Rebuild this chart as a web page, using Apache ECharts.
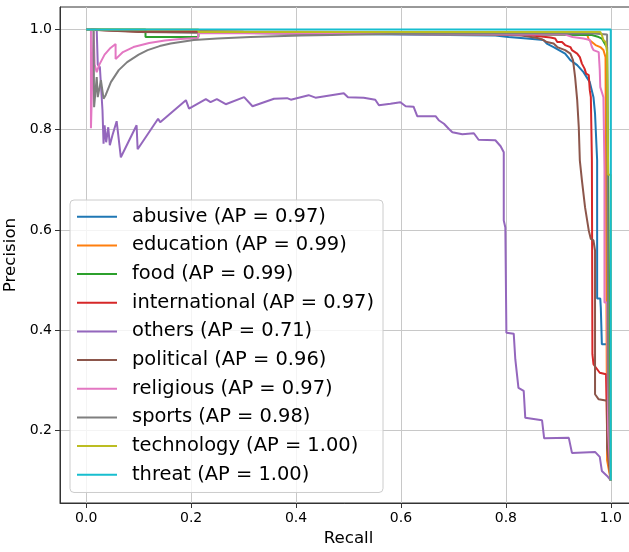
<!DOCTYPE html>
<html>
<head>
<meta charset="utf-8">
<script src="https://cdn.jsdelivr.net/npm/echarts@6/dist/echarts.min.js"></script>
<style>
  html, body { margin: 0; padding: 0; background: #ffffff; }
  #chart { width: 629px; height: 552px; }
</style>
</head>
<body>
<div id="chart"></div>
<script>
// Precision-recall curves, one per class: [recall, precision] pairs in order of recall.
const categories = ['abusive', 'education', 'food', 'international', 'others',
                    'political', 'religious', 'sports', 'technology', 'threat'];
const apScores = [0.97, 0.99, 0.99, 0.97, 0.71, 0.96, 0.97, 0.98, 1.00, 1.00];
const tickValues = [0.0, 0.2, 0.4, 0.6, 0.8, 1.0];
const precisionTicks = [0.2, 0.4, 0.6, 0.8, 1.0];

const abusive = [[0, 1], [0.15, 0.995], [0.4, 0.992], [0.6, 0.99], [0.78, 0.988], [0.805, 0.985],
  [0.84, 0.982], [0.872, 0.979], [0.878, 0.972], [0.891, 0.965], [0.913, 0.952], [0.923, 0.939],
  [0.936, 0.929], [0.948, 0.915], [0.96, 0.895], [0.967, 0.865], [0.970, 0.832], [0.974, 0.739],
  [0.974, 0.463], [0.980, 0.463], [0.981, 0.445], [0.983, 0.443], [0.983, 0.372], [0.993, 0.372],
  [0.995, 0.2], [1.0, 0.1]];

const education = [[0, 1], [0.3, 0.996], [0.7, 0.994], [0.9, 0.992], [0.955, 0.99], [0.958, 0.98],
  [0.971, 0.969], [0.98, 0.965], [0.986, 0.959], [0.99, 0.945], [0.993, 0.942], [0.993, 0.14],
  [1.0, 0.1]];

const food = [[0, 1], [0.113, 1.0], [0.113, 0.985], [0.214, 0.985], [0.214, 0.993], [0.376, 0.993],
  [0.376, 0.99], [0.7, 0.99], [0.964, 0.989], [0.977, 0.985], [0.983, 0.982], [0.986, 0.979],
  [0.99, 0.969], [0.993, 0.965], [0.995, 0.7], [1.0, 0.1]];

const international = [[0, 1], [0.1, 0.996], [0.55, 0.994], [0.75, 0.992], [0.85, 0.988],
  [0.885, 0.984], [0.894, 0.982], [0.898, 0.975], [0.907, 0.975], [0.913, 0.969], [0.923, 0.965],
  [0.926, 0.959], [0.936, 0.952], [0.941, 0.945], [0.945, 0.932], [0.950, 0.922], [0.953, 0.912],
  [0.958, 0.909], [0.960, 0.879], [0.962, 0.865], [0.964, 0.739], [0.965, 0.352], [0.967, 0.332],
  [0.970, 0.329], [0.979, 0.315], [0.991, 0.312], [0.993, 0.2], [1.0, 0.1]];

const others = [[0, 1], [0.02, 1.0], [0.022, 0.93], [0.026, 0.925], [0.031, 0.839], [0.033, 0.772],
  [0.035, 0.809], [0.038, 0.775], [0.042, 0.805], [0.045, 0.769], [0.050, 0.789], [0.058, 0.817],
  [0.066, 0.745], [0.096, 0.809], [0.098, 0.761], [0.137, 0.822], [0.141, 0.815], [0.190, 0.859],
  [0.196, 0.842], [0.228, 0.861], [0.237, 0.855], [0.249, 0.861], [0.266, 0.851], [0.301, 0.865],
  [0.317, 0.847], [0.358, 0.862], [0.383, 0.863], [0.390, 0.860], [0.424, 0.869], [0.437, 0.864],
  [0.491, 0.873], [0.499, 0.865], [0.529, 0.864], [0.551, 0.860], [0.558, 0.849], [0.580, 0.852],
  [0.599, 0.855], [0.609, 0.847], [0.624, 0.846], [0.631, 0.827], [0.666, 0.827], [0.672, 0.819],
  [0.682, 0.812], [0.691, 0.802], [0.698, 0.795], [0.717, 0.791], [0.739, 0.793], [0.748, 0.780],
  [0.780, 0.779], [0.790, 0.767], [0.796, 0.755], [0.796, 0.619], [0.799, 0.605], [0.801, 0.395],
  [0.815, 0.393], [0.818, 0.342], [0.824, 0.285], [0.834, 0.279], [0.837, 0.225], [0.869, 0.220],
  [0.873, 0.184], [0.920, 0.185], [0.926, 0.155], [0.970, 0.157], [0.979, 0.147], [0.983, 0.119],
  [0.993, 0.109], [1.0, 0.10]];

const political = [[0, 1], [0.1, 0.995], [0.4, 0.992], [0.7, 0.991], [0.786, 0.99], [0.83, 0.988],
  [0.86, 0.983], [0.87, 0.98], [0.878, 0.975], [0.891, 0.972], [0.898, 0.965], [0.913, 0.959],
  [0.923, 0.952], [0.928, 0.939], [0.932, 0.905], [0.936, 0.859], [0.939, 0.805], [0.941, 0.739],
  [0.945, 0.699], [0.951, 0.645], [0.958, 0.599], [0.962, 0.582], [0.967, 0.579], [0.970, 0.559],
  [0.970, 0.272], [0.977, 0.262], [0.993, 0.259], [0.993, 0.165], [1.0, 0.1]];

const religious = [[0, 1], [0.009, 1.0], [0.009, 0.803], [0.014, 1.0], [0.016, 0.93], [0.02, 0.915],
  [0.025, 0.93], [0.035, 0.95], [0.045, 0.962], [0.056, 0.971], [0.056, 0.941], [0.07, 0.955],
  [0.09, 0.965], [0.12, 0.973], [0.15, 0.978], [0.18, 0.981], [0.213, 0.983], [0.214, 0.993],
  [0.45, 0.992], [0.66, 0.99], [0.913, 0.99], [0.927, 0.985], [0.948, 0.982], [0.96, 0.979],
  [0.964, 0.965], [0.967, 0.959], [0.977, 0.955], [0.979, 0.919], [0.980, 0.885], [0.983, 0.875],
  [0.986, 0.865], [0.988, 0.72], [0.988, 0.455], [0.993, 0.455], [0.995, 0.2], [1.0, 0.1]];

const sports = [[0, 1], [0.014, 1.0], [0.015, 0.845], [0.020, 0.905], [0.022, 0.865], [0.028, 0.899],
  [0.033, 0.862], [0.037, 0.869], [0.047, 0.895], [0.062, 0.919], [0.078, 0.935], [0.1, 0.95],
  [0.117, 0.959], [0.14, 0.967], [0.161, 0.972], [0.205, 0.979], [0.25, 0.982], [0.313, 0.985],
  [0.41, 0.988], [0.58, 0.991], [0.8, 0.992], [0.967, 0.992], [0.993, 0.99], [0.993, 0.955],
  [0.995, 0.3], [1.0, 0.1]];

const technology = [[0, 1], [0.214, 1.0], [0.214, 0.995], [0.973, 0.995], [0.98, 0.995],
  [0.983, 0.989], [0.986, 0.979], [0.99, 0.975], [0.993, 0.955], [0.995, 0.71], [1.0, 0.71],
  [1.0, 0.1]];

const threat = [[0, 1], [1.0, 1.0], [1.0, 0.1]];

const curves = [abusive, education, food, international, others,
                political, religious, sports, technology, threat];
const palette = ['#1f77b4', '#ff7f0e', '#2ca02c', '#d62728', '#9467bd',
                 '#8c564b', '#e377c2', '#7f7f7f', '#bcbd22', '#17becf'];

const FONT = 'DejaVu Sans';
const names = categories.map((c, i) => `${c} (AP = ${apScores[i].toFixed(2)})`);

const chart = echarts.init(document.getElementById('chart'), null, { renderer: 'canvas' });

chart.setOption({
  animation: false,
  backgroundColor: '#ffffff',
  color: palette,
  grid: {
    left: 60, top: 7, width: 577, height: 496,
    containLabel: false, outerBoundsMode: 'none',
    show: true, borderColor: '#333333', borderWidth: 1, backgroundColor: 'transparent'
  },
  legend: {
    orient: 'vertical',
    left: 70, top: 200,
    padding: [7, 9, 8, 7],
    itemGap: 9.23,
    itemWidth: 40, itemHeight: 2,
    icon: 'rect',
    backgroundColor: 'rgba(255,255,255,0.8)',
    borderColor: '#cccccc', borderWidth: 1, borderRadius: 4,
    textStyle: { fontFamily: FONT, fontSize: 19.44, color: '#000000', lineHeight: 19.44, padding: [0, 0, 0, 10] },
    data: names
  },
  xAxis: {
    type: 'value', min: -0.05, max: 1.05,
    name: 'Recall', nameLocation: 'middle', nameGap: 26,
    nameTextStyle: { fontFamily: FONT, fontSize: 16.67, color: '#000000' },
    axisLine: { show: true, onZero: false, lineStyle: { color: '#333333', width: 1 } },
    axisTick: { show: true, length: 5, customValues: tickValues, lineStyle: { color: '#333333' } },
    axisLabel: {
      customValues: tickValues, margin: 8,
      fontFamily: FONT, fontSize: 14, color: '#000000',
      formatter: v => v.toFixed(1)
    },
    splitLine: { show: true, lineStyle: { color: '#c8c8c8', width: 1 } }
  },
  yAxis: {
    type: 'value', min: 0.055, max: 1.045,
    name: 'Precision', nameLocation: 'middle', nameGap: 32,
    nameTextStyle: { fontFamily: FONT, fontSize: 16.67, color: '#000000' },
    axisLine: { show: true, onZero: false, lineStyle: { color: '#333333', width: 1 } },
    axisTick: { show: true, length: 5, customValues: precisionTicks, lineStyle: { color: '#333333' } },
    axisLabel: {
      customValues: precisionTicks, margin: 8,
      fontFamily: FONT, fontSize: 14, color: '#000000',
      formatter: v => v.toFixed(1)
    },
    splitLine: { show: true, lineStyle: { color: '#c8c8c8', width: 1 } }
  },
  series: curves.map((pts, i) => ({
    name: names[i],
    type: 'line',
    data: pts,
    showSymbol: false,
    symbol: 'none',
    clip: true,
    lineStyle: { width: 2, color: palette[i] },
    itemStyle: { color: palette[i] },
    emphasis: { disabled: true }
  }))
});
</script>
</body>
</html>
